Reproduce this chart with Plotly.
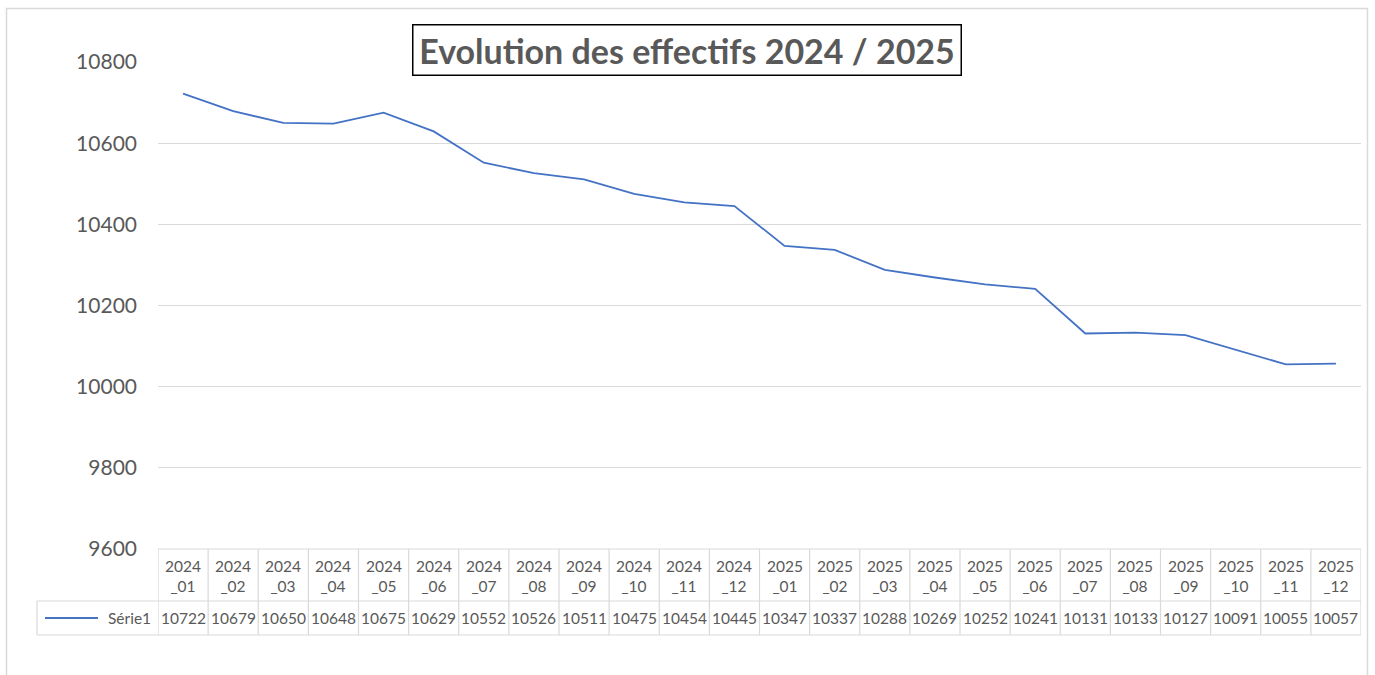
import plotly.graph_objects as go

categories = ["2024_01","2024_02","2024_03","2024_04","2024_05","2024_06","2024_07","2024_08",
              "2024_09","2024_10","2024_11","2024_12","2025_01","2025_02","2025_03","2025_04",
              "2025_05","2025_06","2025_07","2025_08","2025_09","2025_10","2025_11","2025_12"]
values = [10722,10679,10650,10648,10675,10629,10552,10526,10511,10475,10454,10445,
          10347,10337,10288,10269,10252,10241,10131,10133,10127,10091,10055,10057]
series_name = "Série1"
title_text = "Evolution des effectifs 2024 / 2025"
y_ticks = [9600, 9800, 10000, 10200, 10400, 10600, 10800]

W, H = 1375, 675
L, R, T, B = 158, 1361, 62, 549  # plot area in page pixels
FONT = "Lato, 'Open Sans', sans-serif"
TXT = "#595959"
GRID = "#d9d9d9"
LINE = "#4472C4"

def px(xp):
    return (xp - L) / (R - L)

def py(yp):
    return (B - yp) / (B - T)

n = len(categories)
x_idx = list(range(n))

fig = go.Figure()
fig.add_trace(go.Scatter(x=x_idx, y=values, mode="lines", name=series_name,
                         line=dict(color=LINE, width=1.8), showlegend=False,
                         hoverinfo="x+y"))

shapes = []
annotations = []

# chart border
shapes.append(dict(type="rect", xref="paper", yref="paper", x0=px(6.5), x1=px(1367.5),
                   y0=py(700), y1=py(8.5), line=dict(color=GRID, width=1.5), layer="below"))

# data table grid
row1_top, row1_bot, row2_bot = 549, 601, 635
for i in range(n + 1):
    shapes.append(dict(type="line", xref="x", yref="paper", x0=i - 0.5, x1=i - 0.5,
                       y0=py(row1_top), y1=py(row2_bot), line=dict(color=GRID, width=1.2)))
for yy in (row1_top, row1_bot, row2_bot):
    shapes.append(dict(type="line", xref="x", yref="paper", x0=-0.5, x1=n - 0.5,
                       y0=py(yy), y1=py(yy), line=dict(color=GRID, width=1.2)))
# legend cell
for yy in (row1_bot, row2_bot):
    shapes.append(dict(type="line", xref="paper", yref="paper", x0=px(37), x1=0,
                       y0=py(yy), y1=py(yy), line=dict(color=GRID, width=1.2)))
shapes.append(dict(type="line", xref="paper", yref="paper", x0=px(37), x1=px(37),
                   y0=py(row1_bot), y1=py(row2_bot), line=dict(color=GRID, width=1.2)))
# legend line sample
shapes.append(dict(type="line", xref="paper", yref="paper", x0=px(45), x1=px(98),
                   y0=py(618), y1=py(618), line=dict(color=LINE, width=1.8)))
annotations.append(dict(xref="paper", yref="paper", x=px(153), y=py(618), text=series_name,
                        showarrow=False, xanchor="right", yanchor="middle",
                        font=dict(family=FONT, size=15.5, color=TXT)))

for i, (c, v) in enumerate(zip(categories, values)):
    yr, mo = c.split("_")
    annotations.append(dict(xref="x", yref="paper", x=i, y=py(576), text=f"{yr}<br>_{mo}",
                            showarrow=False, xanchor="center", yanchor="middle",
                            font=dict(family=FONT, size=15.5, color=TXT)))
    annotations.append(dict(xref="x", yref="paper", x=i, y=py(618), text=str(v),
                            showarrow=False, xanchor="center", yanchor="middle",
                            font=dict(family=FONT, size=15.5, color=TXT)))

# title box
annotations.append(dict(xref="paper", yref="paper", x=px(686.5), y=py(50.5), text=f"<b>{title_text}</b>",
                        showarrow=False, xanchor="center", yanchor="middle",
                        width=545, height=47, bordercolor="#000000", borderwidth=1.5,
                        bgcolor="white", font=dict(family=FONT, size=34, color=TXT)))

fig.update_layout(
    width=W, height=H,
    margin=dict(l=L, r=W - R, t=T, b=H - B, pad=0),
    plot_bgcolor="white", paper_bgcolor="white",
    showlegend=False,
    xaxis=dict(range=[-0.5, n - 0.5], showticklabels=False, showgrid=False, zeroline=False,
               showline=False, ticks=""),
    yaxis=dict(range=[9600, 10800], tickvals=y_ticks, ticktext=[str(t) for t in y_ticks],
               showgrid=True, gridcolor=GRID, gridwidth=1.2, zeroline=False, showline=False,
               ticks="", ticklabelstandoff=20,
               tickfont=dict(family=FONT, size=21, color=TXT)),
    shapes=shapes, annotations=annotations,
)

fig.write_html("out.html", config={"displayModeBar": False},
               post_script="document.body.style.margin='0';document.body.style.overflow='hidden';")
